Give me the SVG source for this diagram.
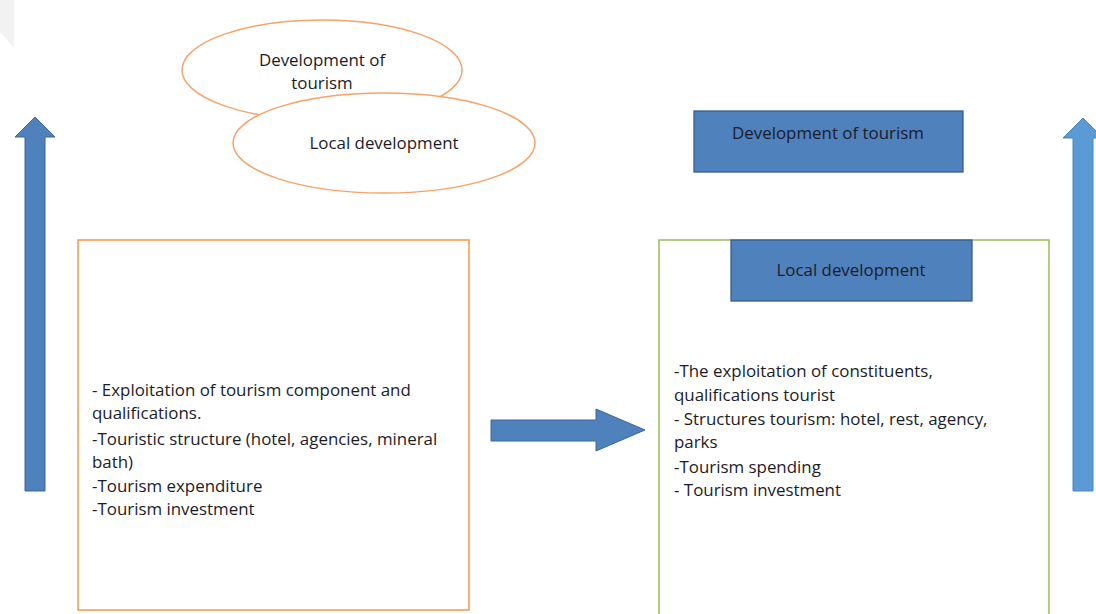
<svg xmlns="http://www.w3.org/2000/svg" width="1096" height="614" viewBox="0 0 1096 614">
<style>
text{font-family:"Open Sans","Liberation Sans",sans-serif;font-size:16.9px;fill:#1c1c28}
.c{text-anchor:middle}
.ell{fill:#fff;stroke:#f4a46a;stroke-width:1.5}
.blue{fill:#4f81bd;stroke:#385d8a;stroke-width:1.3}
.arr{fill:#4f81bd;stroke:#3d6798;stroke-width:1}
.arr2{fill:#5b9bd5;stroke:#4a85bd;stroke-width:1}
</style>
<rect width="1096" height="614" fill="#fff"/>
<polygon points="0,0 14,0 14,48 0,32" fill="#f2f2f2"/>
<g id="connectors">
<path class="arr" d="M25,491 V137 H15 L35,117 L55,137 H45 V491 Z"/>
<path class="arr2" d="M1073,491 V138 H1063 L1083,118 L1103,138 H1093 V491 Z"/>
<path class="arr" d="M491,420 H596 V409 L645,430 L596,451 V441 H491 Z"/>
</g>
<g id="ellipse-tourism">
<ellipse class="ell" cx="322" cy="70" rx="140" ry="50"/>
<text class="c" x="322" y="66">Development of</text>
<text class="c" x="322" y="89">tourism</text>
</g>
<g id="ellipse-local">
<ellipse class="ell" cx="384" cy="143" rx="151" ry="50"/>
<text class="c" x="384" y="149">Local development</text>
</g>
<g id="box-left">
<rect x="78" y="240" width="391" height="370" fill="#fff" stroke="#f79646" stroke-width="1.5"/>
<text x="92" y="396">- Exploitation of tourism component and</text>
<text x="92" y="419">qualifications.</text>
<text x="92" y="445">-Touristic structure (hotel, agencies, mineral</text>
<text x="92" y="468">bath)</text>
<text x="92" y="492">-Tourism expenditure</text>
<text x="92" y="515">-Tourism investment</text>
</g>
<g id="box-tourism">
<rect class="blue" x="694" y="111" width="269" height="61"/>
<text class="c" x="828" y="139">Development of tourism</text>
</g>
<g id="box-right">
<rect x="659" y="240" width="390" height="380" fill="#fff" stroke="#9bbb59" stroke-width="1.5"/>
<text x="674" y="377">-The exploitation of constituents,</text>
<text x="674" y="401">qualifications tourist</text>
<text x="674" y="425">- Structures tourism: hotel, rest, agency,</text>
<text x="674" y="448">parks</text>
<text x="674" y="473">-Tourism spending</text>
<text x="674" y="496">- Tourism investment</text>
</g>
<g id="box-local">
<rect class="blue" x="731" y="240" width="241" height="61"/>
<text class="c" x="851" y="276">Local development</text>
</g>
</svg>
